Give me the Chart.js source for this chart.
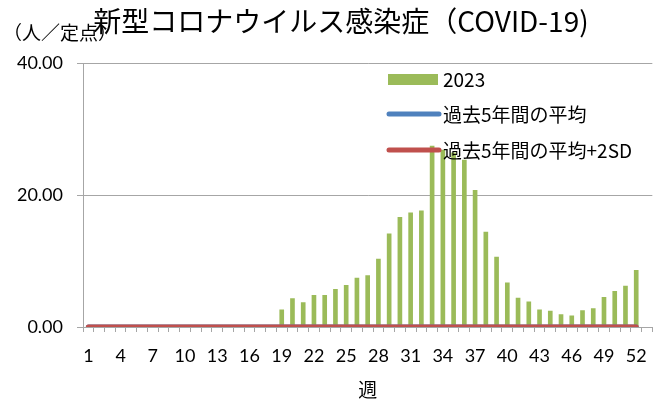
<!DOCTYPE html>
<html>
<head>
<meta charset="utf-8">
<script src="https://cdn.jsdelivr.net/npm/chart.js@4.4.1/dist/chart.umd.min.js"></script>
<style>
html,body{margin:0;padding:0;background:#fff;}
#wrap{position:relative;width:660px;height:405px;}
</style>
</head>
<body>
<div id="wrap"><canvas id="c" width="660" height="405"></canvas></div>
<script>
const chartTitle = "新型コロナウイルス感染症（COVID-19)";
const yUnit = "（人／定点）";
const xTitle = "週";
const weeks = [1,2,3,4,5,6,7,8,9,10,11,12,13,14,15,16,17,18,19,20,21,22,23,24,25,26,27,28,29,30,31,32,33,34,35,36,37,38,39,40,41,42,43,44,45,46,47,48,49,50,51,52,53];
const seriesNames = ["2023", "過去5年間の平均", "過去5年間の平均+2SD"];
const values2023 = [null,null,null,null,null,null,null,null,null,null,null,null,null,null,null,null,null,null,
  2.6,4.3,3.7,4.8,4.8,5.7,6.3,7.4,7.8,10.3,14.1,16.6,17.3,17.6,27.4,26.8,26.4,25.3,20.7,14.4,10.6,6.7,4.4,3.8,2.6,2.4,1.9,1.7,2.5,2.8,4.5,5.4,6.2,8.6,null];
const avg5 = [0,0,0,0,0,0,0,0,0,0,0,0,0,0,0,0,0,0,0,0,0,0,0,0,0,0,0,0,0,0,0,0,0,0,0,0,0,0,0,0,0,0,0,0,0,0,0,0,0,0,0,0,null];
const avg5plus2sd = [0,0,0,0,0,0,0,0,0,0,0,0,0,0,0,0,0,0,0,0,0,0,0,0,0,0,0,0,0,0,0,0,0,0,0,0,0,0,0,0,0,0,0,0,0,0,0,0,0,0,0,0,null];
const yTicks = [0, 20, 40];

const JP = "'Noto Sans CJK JP', 'Noto Sans', sans-serif";
const NUM = "Lato, 'Noto Sans CJK JP', sans-serif";
const GREEN = '#9BBB59', BLUE = '#4F81BD', RED = '#C0504D', GRID = '#A6A6A6';

const overlay = {
  id: 'overlay',
  afterDatasetsDraw(chart) {
    const ctx = chart.ctx;
    ctx.save();
    const ds = chart.data.datasets;
    const lx = 388, tx = 443;
    const rows = [79, 114, 150];
    ctx.font = "19px " + JP;
    ctx.textBaseline = 'middle';
    ds.forEach((d, i) => {
      const y = rows[i];
      if (d.type === 'bar') {
        ctx.fillStyle = d.backgroundColor;
        ctx.fillRect(lx, y - 5, 50, 11);
      } else {
        ctx.strokeStyle = d.borderColor;
        ctx.lineWidth = 5;
        ctx.lineCap = 'round';
        ctx.beginPath();
        ctx.moveTo(lx + 1, y);
        ctx.lineTo(lx + 51, y);
        ctx.stroke();
      }
      ctx.fillStyle = '#000';
      ctx.textAlign = 'left';
      ctx.fillText(d.label, tx, y + 1);
    });
    ctx.restore();
  },
  afterDraw(chart) {
    const ctx = chart.ctx;
    ctx.save();
    ctx.fillStyle = '#000';
    ctx.textBaseline = 'alphabetic';
    ctx.textAlign = 'left';
    ctx.font = "19px " + JP;
    ctx.fillText(yUnit, 3, 40);
    ctx.font = "28px " + JP;
    ctx.textAlign = 'center';
    ctx.fillText(chartTitle, 341, 32);
    ctx.restore();
  }
};

new Chart(document.getElementById('c'), {
  type: 'bar',
  data: {
    labels: weeks,
    datasets: [
      { type: 'bar', label: seriesNames[0], data: values2023, backgroundColor: GREEN, barThickness: 4, order: 3 },
      { type: 'line', label: seriesNames[1], data: avg5, borderColor: BLUE, backgroundColor: BLUE, borderWidth: 5, pointRadius: 0, borderCapStyle: 'round', order: 2 },
      { type: 'line', label: seriesNames[2], data: avg5plus2sd, borderColor: RED, backgroundColor: RED, borderWidth: 5, pointRadius: 0, borderCapStyle: 'round', order: 1 }
    ]
  },
  options: {
    responsive: false,
    animation: false,
    devicePixelRatio: 1,
    layout: { padding: { top: 63, right: 4, left: 0, bottom: 0 } },
    plugins: { legend: { display: false }, title: { display: false }, tooltip: { enabled: false } },
    scales: {
      x: {
        offset: true,
        grid: { drawOnChartArea: false, drawTicks: true, tickLength: 5, offset: true, color: GRID },
        border: { display: true, color: GRID },
        ticks: {
          autoSkip: false, maxRotation: 0, minRotation: 0, padding: 13,
          color: '#000', font: { family: NUM, size: 18 },
          callback: function(v, i) { return i % 3 === 0 ? String(weeks[i]) : ''; }
        },
        title: { display: true, text: xTitle, color: '#000', font: { family: JP, size: 19 }, padding: { top: 6, bottom: 4 } },
        afterFit: function(s) { s.height = 78; }
      },
      y: {
        min: 0, max: 40,
        afterBuildTicks: function(s) { s.ticks = yTicks.map(v => ({ value: v })); },
        grid: { color: GRID, tickLength: 6, drawTicks: true },
        border: { display: true, color: GRID },
        ticks: { color: '#000', padding: 14, font: { family: NUM, size: 18 },
          callback: v => Number(v).toFixed(2) },
        afterFit: function(s) { s.width = 83; }
      }
    }
  },
  plugins: [overlay]
});
</script>
</body>
</html>
